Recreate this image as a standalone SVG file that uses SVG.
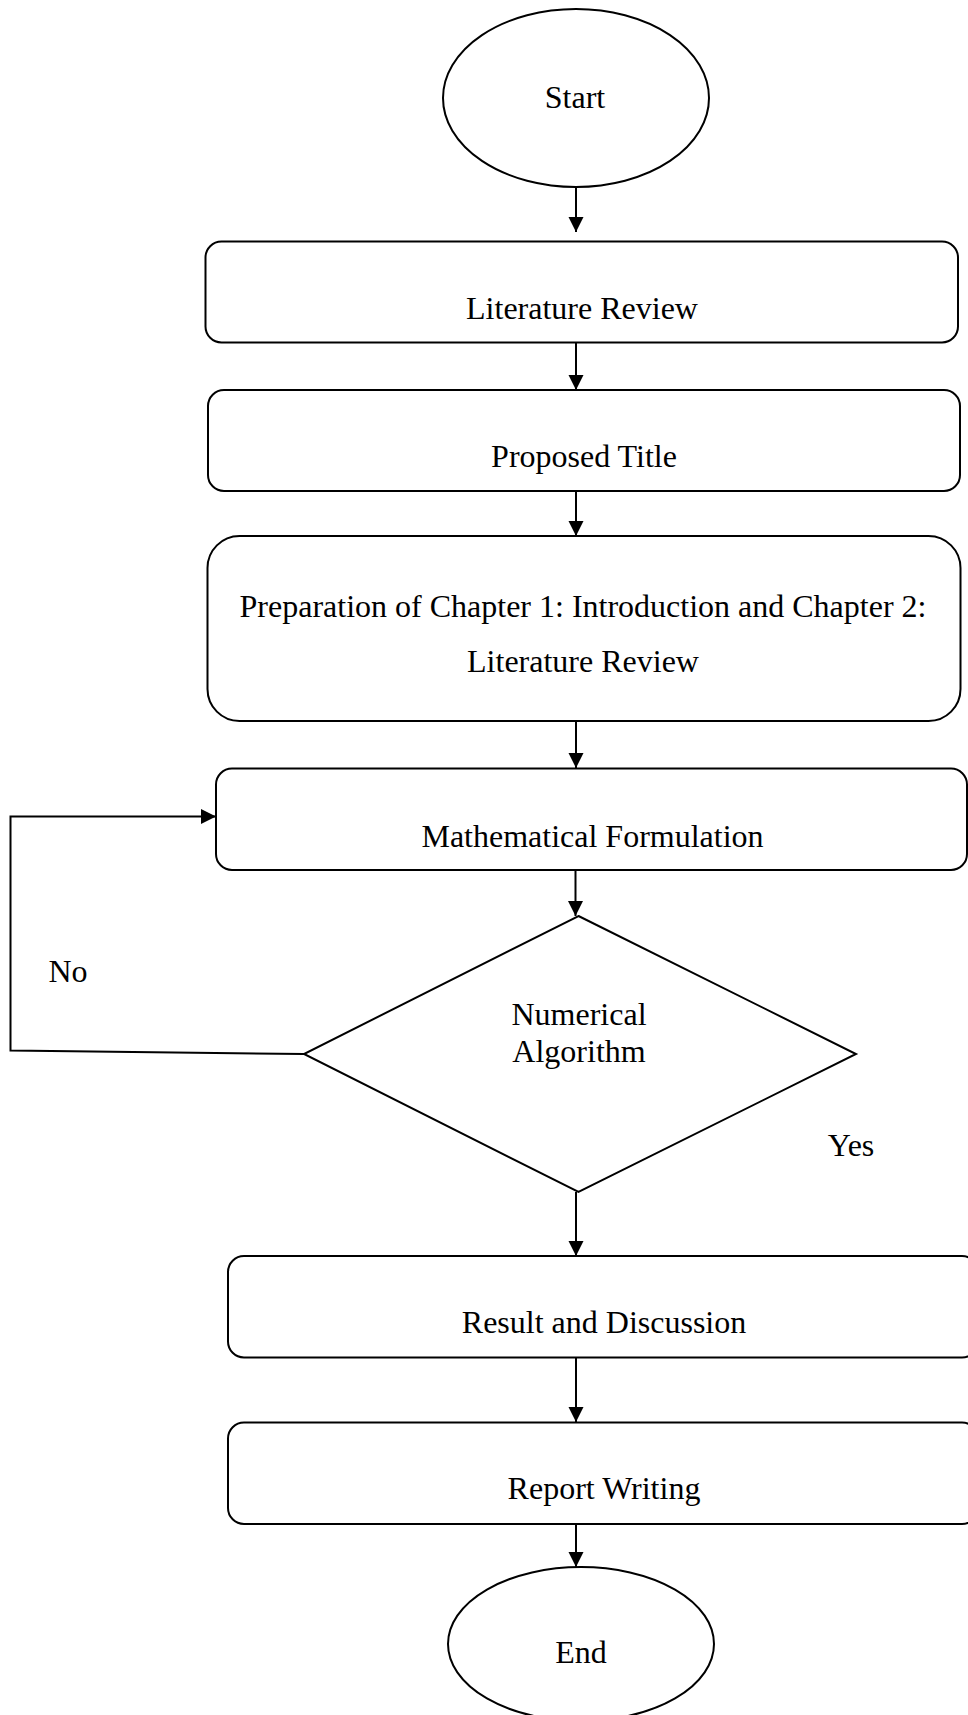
<svg xmlns="http://www.w3.org/2000/svg" width="968" height="1715" viewBox="0 0 968 1715">
<style>
.s{fill:#fff;stroke:#000;stroke-width:2}
.t{font-family:"Liberation Serif","Times New Roman",serif;font-size:32px;fill:#000;text-anchor:middle}
.c{fill:none;stroke:#000;stroke-width:2}
</style>
<defs>
<marker id="ah" markerUnits="userSpaceOnUse" markerWidth="16" markerHeight="16" viewBox="0 0 16 16" refX="15" refY="8" orient="auto">
<path d="M0,0.5 L15,8 L0,15.5 Z" fill="#000"/>
</marker>
</defs>
<rect width="968" height="1715" fill="#fff"/>
<g id="start"><ellipse class="s" cx="576" cy="98" rx="133" ry="89"/><text class="t" x="575" y="108">Start</text></g>
<g id="lit"><rect class="s" x="205.5" y="241.5" width="752.5" height="101" rx="16"/><text class="t" x="582" y="319">Literature Review</text></g>
<g id="title"><rect class="s" x="208" y="390" width="752" height="101" rx="16"/><text class="t" x="584" y="467">Proposed Title</text></g>
<g id="prep"><rect class="s" x="207.5" y="536" width="753" height="185" rx="32"/><text class="t" x="583" y="617">Preparation of Chapter 1: Introduction and Chapter 2:</text><text class="t" x="583" y="672">Literature Review</text></g>
<g id="math"><rect class="s" x="216" y="768.5" width="751" height="101.5" rx="16"/><text class="t" x="592.5" y="847">Mathematical Formulation</text></g>
<g id="decision"><polygon class="s" points="578.5,916 856,1054 578.5,1192 304,1054"/><text class="t" x="579" y="1025">Numerical</text><text class="t" x="579" y="1062">Algorithm</text></g>
<g id="result"><rect class="s" x="228" y="1256" width="750" height="101.5" rx="16"/><text class="t" x="604" y="1333">Result and Discussion</text></g>
<g id="report"><rect class="s" x="228" y="1422.5" width="750" height="101.5" rx="16"/><text class="t" x="604" y="1499">Report Writing</text></g>
<g id="end"><ellipse class="s" cx="581" cy="1644" rx="133" ry="77"/><text class="t" x="581" y="1663">End</text></g>
<g id="labels"><text class="t" x="68" y="982">No</text><text class="t" x="851" y="1156">Yes</text></g>
<g id="connectors">
<line class="c" x1="576" y1="187" x2="576" y2="232" marker-end="url(#ah)"/>
<line class="c" x1="576" y1="342.5" x2="576" y2="390" marker-end="url(#ah)"/>
<line class="c" x1="576" y1="491" x2="576" y2="536" marker-end="url(#ah)"/>
<line class="c" x1="576" y1="721" x2="576" y2="768" marker-end="url(#ah)"/>
<line class="c" x1="575.5" y1="870" x2="575.5" y2="916" marker-end="url(#ah)"/>
<line class="c" x1="576" y1="1192" x2="576" y2="1256" marker-end="url(#ah)"/>
<line class="c" x1="576" y1="1357.5" x2="576" y2="1422" marker-end="url(#ah)"/>
<line class="c" x1="576" y1="1524" x2="576" y2="1567" marker-end="url(#ah)"/>
<polyline class="c" points="304,1054 10.5,1050.5 10.5,816.5 216,816.5" marker-end="url(#ah)"/>
</g>
</svg>
